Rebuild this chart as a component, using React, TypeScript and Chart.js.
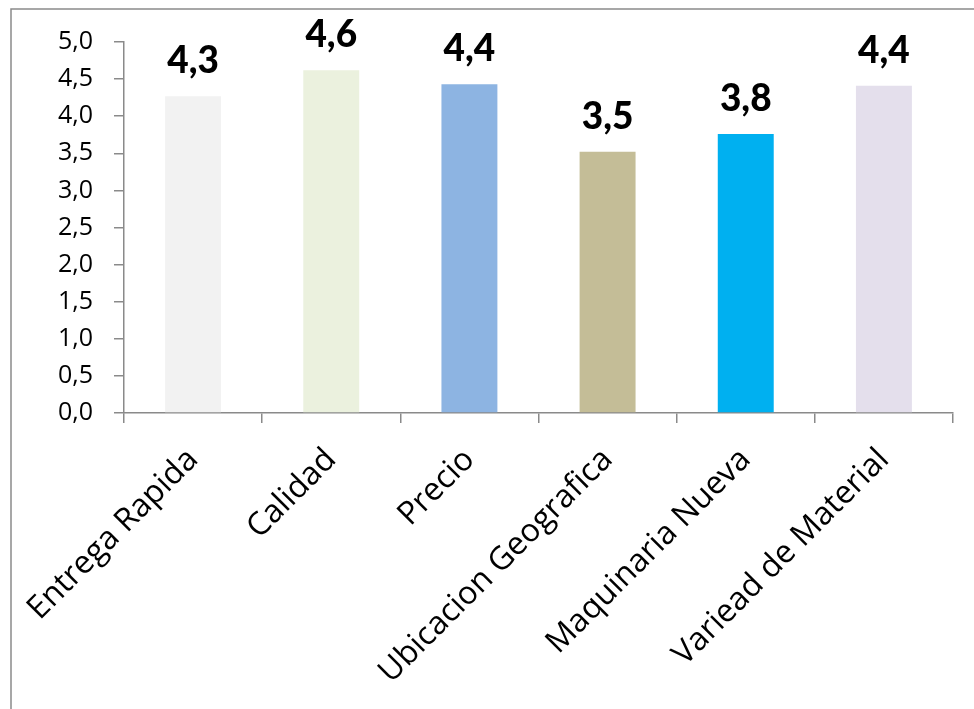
import React, { useEffect, useRef } from "react";
import { Chart, registerables } from "chart.js";

Chart.register(...registerables);

const categories = [
  "Entrega Rapida",
  "Calidad",
  "Precio",
  "Ubicacion Geografica",
  "Maquinaria Nueva",
  "Variead de Material",
];
const values = [4.27, 4.62, 4.43, 3.52, 3.76, 4.41];
const barColors = ["#F2F2F2", "#EBF1DE", "#8DB4E2", "#C4BD97", "#00B0F0", "#E4DFEC"];
const yMin = 0;
const yMax = 5;
const yStep = 0.5;

const fmt = (v: number) => v.toFixed(1).replace(".", ",");

const frame = {
  id: "frame",
  beforeDraw(chart: any) {
    const ctx = chart.ctx;
    ctx.save();
    ctx.fillStyle = "#ffffff";
    ctx.fillRect(0, 0, chart.width, chart.height);
    ctx.strokeStyle = "#8a8a8a";
    ctx.lineWidth = 1.5;
    ctx.beginPath();
    ctx.moveTo(11, chart.height);
    ctx.lineTo(11, 9);
    ctx.lineTo(chart.width, 9);
    ctx.stroke();
    ctx.restore();
  },
};

const valueLabels = {
  id: "valueLabels",
  afterDatasetsDraw(chart: any) {
    const ctx = chart.ctx;
    const meta = chart.getDatasetMeta(0);
    ctx.save();
    ctx.font = "900 37px Lato";
    ctx.fillStyle = "#000000";
    ctx.textAlign = "center";
    ctx.textBaseline = "alphabetic";
    meta.data.forEach((el: any, i: number) => {
      ctx.fillText(fmt(values[i]), el.x, el.y - 23);
    });
    ctx.restore();
  },
};

export default function App() {
  const ref = useRef<HTMLCanvasElement>(null);
  useEffect(() => {
    if (!ref.current) return;
    const chart = new Chart(ref.current, {
      type: "bar",
      data: {
        labels: categories,
        datasets: [
          {
            data: values,
            backgroundColor: barColors,
            borderWidth: 0,
            categoryPercentage: 1,
            barPercentage: 0.405,
          },
        ],
      },
      options: {
        animation: false,
        responsive: false,
        events: [],
        layout: { padding: { left: 0, top: 42, right: 21, bottom: 0 } },
        plugins: { legend: { display: false }, tooltip: { enabled: false } },
        scales: {
          x: {
            grid: {
              display: true,
              drawOnChartArea: false,
              drawTicks: true,
              tickLength: 10,
              color: "#8a8a8a",
              lineWidth: 1.5,
              offset: true,
            },
            border: { display: true, color: "#8a8a8a", width: 1.5 },
            ticks: {
              color: "#000000",
              font: { family: "Open Sans", size: 32 },
              minRotation: 45,
              maxRotation: 45,
              autoSkip: false,
              padding: 18,
            },
            afterFit: (s: any) => {
              s.height = 296;
            },
          },
          y: {
            min: yMin,
            max: yMax,
            grid: {
              display: true,
              drawOnChartArea: false,
              drawTicks: true,
              tickLength: 10,
              color: "#8a8a8a",
              lineWidth: 1.5,
            },
            border: { display: true, color: "#8a8a8a", width: 1.5 },
            ticks: {
              stepSize: yStep,
              color: "#000000",
              font: { family: "Open Sans", size: 25 },
              padding: 21,
              callback: (v: any) => fmt(Number(v)),
            },
            afterFit: (s: any) => {
              s.width = 124;
            },
          },
        },
      },
      plugins: [frame, valueLabels],
    });
    return () => chart.destroy();
  }, []);
  return (
    <div style={{ position: "absolute", left: 0, top: 0, width: 974, height: 709 }}>
      <canvas ref={ref} width={974} height={709} style={{ display: "block" }} />
    </div>
  );
}
